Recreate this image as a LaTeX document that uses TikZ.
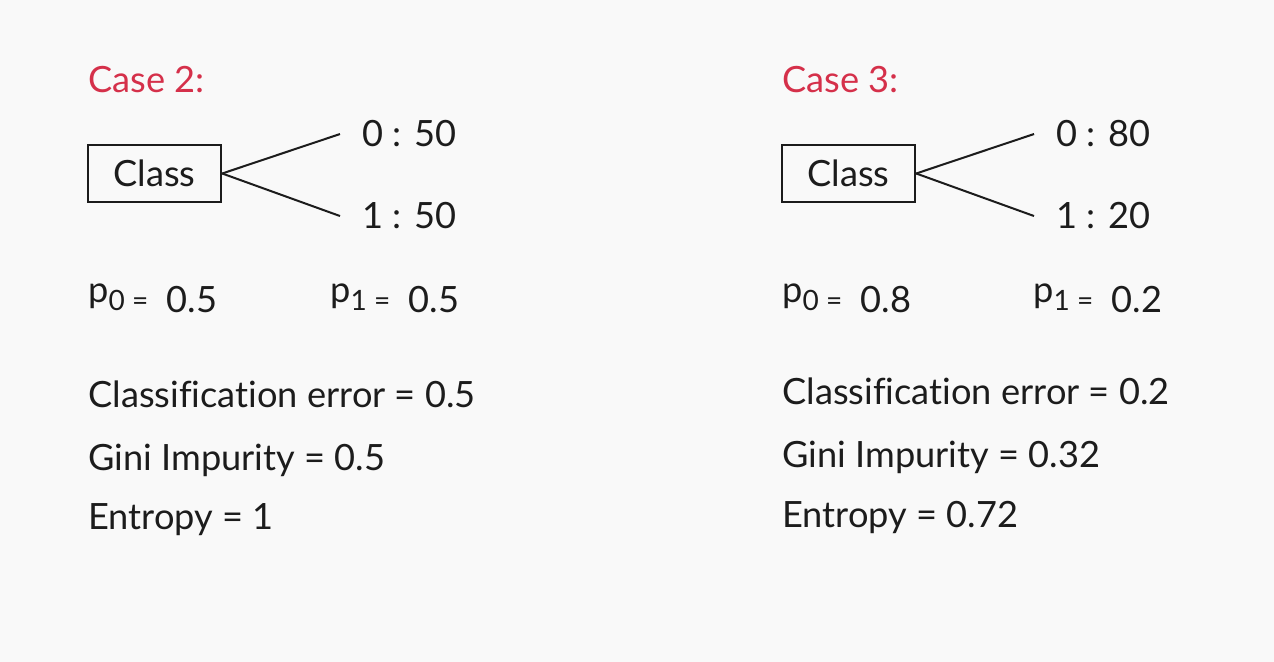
\documentclass[tikz,border=0pt]{standalone}
\usepackage{fontspec}
\setmainfont{Lato}[Ligatures=NoCommon]
\definecolor{caseRed}{HTML}{D5304A}
\definecolor{bgGray}{HTML}{F9F9F9}
\definecolor{inkDark}{HTML}{1C1C1C}
% p with a small subscript and equals sign
\newcommand{\probof}[2]{\raisebox{5pt}{p}{\fontsize{14}{16}\selectfont\raisebox{1pt}{#1 =}}\ \ #2}

\begin{document}
\begin{tikzpicture}[x=0.5pt, y=-0.5pt,
    txt/.style={anchor=base west, inner sep=0pt, text=inkDark, font=\fontsize{18.1}{22}\selectfont},
    casehead/.style={txt, text=caseRed},
    classbox/.style={rectangle, draw=inkDark, line width=1.2pt, minimum width=66.5pt, minimum height=28.5pt, inner sep=0pt, text=inkDark, font=\fontsize{18.1}{22}\selectfont},
    branch/.style={draw=inkDark, line width=1pt}
]
\fill[bgGray] (0,0) rectangle (1274,662);
\useasboundingbox (0,0) rectangle (1274,662);

% Case 2
\node[casehead] (head2) at (88,93) {Case 2:};
\node[classbox] (cls2) at (154.5,173.5) {Class};
\node[txt] (zero2) at (362,147) {0 : 50};
\node[txt] (one2) at (362,229) {1 : 50};
\draw[branch] (cls2.east) -- ([xshift=-11pt]zero2.west);
\draw[branch] (cls2.east) -- ([xshift=-11pt]one2.west);
\node[txt] (pzero2) at (88,313) {\probof{0}{0.5}};
\node[txt] (pone2) at (330,313) {\probof{1}{0.5}};
\node[txt] (err2) at (88,408) {Classification error = 0.5};
\node[txt] (gini2) at (88,470) {Gini Impurity = 0.5};
\node[txt] (ent2) at (88,529) {Entropy = 1};

% Case 3
\node[casehead] (head3) at (782,93) {Case 3:};
\node[classbox] (cls3) at (848.5,173.5) {Class};
\node[txt] (zero3) at (1056,147) {0 : 80};
\node[txt] (one3) at (1056,229) {1 : 20};
\draw[branch] (cls3.east) -- ([xshift=-11pt]zero3.west);
\draw[branch] (cls3.east) -- ([xshift=-11pt]one3.west);
\node[txt] (pzero3) at (782,313) {\probof{0}{0.8}};
\node[txt] (pone3) at (1033,313) {\probof{1}{0.2}};
\node[txt] (err3) at (782,405) {Classification error = 0.2};
\node[txt] (gini3) at (782,467) {Gini Impurity = 0.32};
\node[txt] (ent3) at (782,527) {Entropy = 0.72};

\end{tikzpicture}
\end{document}
